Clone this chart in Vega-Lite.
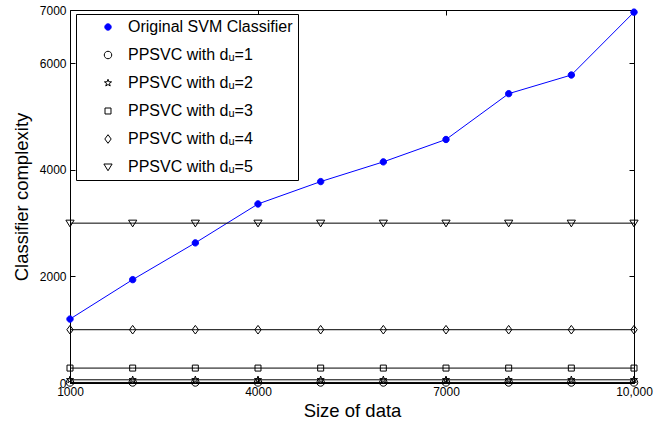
{
  "$schema": "https://vega.github.io/schema/vega-lite/v6.json",
  "width": 564,
  "height": 373,
  "autosize": "none",
  "padding": {"left": 70, "top": 10, "right": 20, "bottom": 45},
  "background": "white",
  "config": {
    "font": "Liberation Sans",
    "view": {"stroke": "black", "strokeWidth": 1},
    "axis": {"grid": false, "domainColor": "black", "tickColor": "black", "labelColor": "black", "titleColor": "black", "labelFont": "Liberation Sans", "titleFont": "Liberation Sans", "titleFontWeight": "normal"},
    "legend": {"title": null, "orient": "none", "legendX": 6, "legendY": 4, "fillColor": "white", "strokeColor": "black", "padding": 5, "rowPadding": 12, "labelFontSize": 16, "labelLimit": 400, "labelFont": "Liberation Sans", "labelColor": "black", "symbolSize": 56, "symbolOffset": 19, "labelOffset": 12, "symbolStrokeWidth": 1}
  },
  "datasets": {
    "pts": [
      {"size": 1000, "series": "Original SVM Classifier", "complexity": 1200},
      {"size": 2000, "series": "Original SVM Classifier", "complexity": 1940},
      {"size": 3000, "series": "Original SVM Classifier", "complexity": 2630},
      {"size": 4000, "series": "Original SVM Classifier", "complexity": 3360},
      {"size": 5000, "series": "Original SVM Classifier", "complexity": 3780},
      {"size": 6000, "series": "Original SVM Classifier", "complexity": 4150},
      {"size": 7000, "series": "Original SVM Classifier", "complexity": 4570},
      {"size": 8000, "series": "Original SVM Classifier", "complexity": 5430},
      {"size": 9000, "series": "Original SVM Classifier", "complexity": 5780},
      {"size": 10000, "series": "Original SVM Classifier", "complexity": 6960},
      {"size": 1000, "series": "PPSVC with dᵤ=1", "complexity": 10},
      {"size": 2000, "series": "PPSVC with dᵤ=1", "complexity": 10},
      {"size": 3000, "series": "PPSVC with dᵤ=1", "complexity": 10},
      {"size": 4000, "series": "PPSVC with dᵤ=1", "complexity": 10},
      {"size": 5000, "series": "PPSVC with dᵤ=1", "complexity": 10},
      {"size": 6000, "series": "PPSVC with dᵤ=1", "complexity": 10},
      {"size": 7000, "series": "PPSVC with dᵤ=1", "complexity": 10},
      {"size": 8000, "series": "PPSVC with dᵤ=1", "complexity": 10},
      {"size": 9000, "series": "PPSVC with dᵤ=1", "complexity": 10},
      {"size": 10000, "series": "PPSVC with dᵤ=1", "complexity": 10},
      {"size": 1000, "series": "PPSVC with dᵤ=2", "complexity": 60},
      {"size": 2000, "series": "PPSVC with dᵤ=2", "complexity": 60},
      {"size": 3000, "series": "PPSVC with dᵤ=2", "complexity": 60},
      {"size": 4000, "series": "PPSVC with dᵤ=2", "complexity": 60},
      {"size": 5000, "series": "PPSVC with dᵤ=2", "complexity": 60},
      {"size": 6000, "series": "PPSVC with dᵤ=2", "complexity": 60},
      {"size": 7000, "series": "PPSVC with dᵤ=2", "complexity": 60},
      {"size": 8000, "series": "PPSVC with dᵤ=2", "complexity": 60},
      {"size": 9000, "series": "PPSVC with dᵤ=2", "complexity": 60},
      {"size": 10000, "series": "PPSVC with dᵤ=2", "complexity": 60},
      {"size": 1000, "series": "PPSVC with dᵤ=3", "complexity": 280},
      {"size": 2000, "series": "PPSVC with dᵤ=3", "complexity": 280},
      {"size": 3000, "series": "PPSVC with dᵤ=3", "complexity": 280},
      {"size": 4000, "series": "PPSVC with dᵤ=3", "complexity": 280},
      {"size": 5000, "series": "PPSVC with dᵤ=3", "complexity": 280},
      {"size": 6000, "series": "PPSVC with dᵤ=3", "complexity": 280},
      {"size": 7000, "series": "PPSVC with dᵤ=3", "complexity": 280},
      {"size": 8000, "series": "PPSVC with dᵤ=3", "complexity": 280},
      {"size": 9000, "series": "PPSVC with dᵤ=3", "complexity": 280},
      {"size": 10000, "series": "PPSVC with dᵤ=3", "complexity": 280},
      {"size": 1000, "series": "PPSVC with dᵤ=4", "complexity": 1000},
      {"size": 2000, "series": "PPSVC with dᵤ=4", "complexity": 1000},
      {"size": 3000, "series": "PPSVC with dᵤ=4", "complexity": 1000},
      {"size": 4000, "series": "PPSVC with dᵤ=4", "complexity": 1000},
      {"size": 5000, "series": "PPSVC with dᵤ=4", "complexity": 1000},
      {"size": 6000, "series": "PPSVC with dᵤ=4", "complexity": 1000},
      {"size": 7000, "series": "PPSVC with dᵤ=4", "complexity": 1000},
      {"size": 8000, "series": "PPSVC with dᵤ=4", "complexity": 1000},
      {"size": 9000, "series": "PPSVC with dᵤ=4", "complexity": 1000},
      {"size": 10000, "series": "PPSVC with dᵤ=4", "complexity": 1000},
      {"size": 1000, "series": "PPSVC with dᵤ=5", "complexity": 3000},
      {"size": 2000, "series": "PPSVC with dᵤ=5", "complexity": 3000},
      {"size": 3000, "series": "PPSVC with dᵤ=5", "complexity": 3000},
      {"size": 4000, "series": "PPSVC with dᵤ=5", "complexity": 3000},
      {"size": 5000, "series": "PPSVC with dᵤ=5", "complexity": 3000},
      {"size": 6000, "series": "PPSVC with dᵤ=5", "complexity": 3000},
      {"size": 7000, "series": "PPSVC with dᵤ=5", "complexity": 3000},
      {"size": 8000, "series": "PPSVC with dᵤ=5", "complexity": 3000},
      {"size": 9000, "series": "PPSVC with dᵤ=5", "complexity": 3000},
      {"size": 10000, "series": "PPSVC with dᵤ=5", "complexity": 3000}
    ]
  },
  "data": {"name": "pts"},
  "encoding": {
    "x": {"field": "size", "type": "quantitative", "scale": {"domain": [1000, 10000], "nice": false, "zero": false}},
    "y": {"field": "complexity", "type": "quantitative", "scale": {"domain": [0, 7000], "nice": false}}
  },
  "layer": [
    {
      "mark": {"type": "line", "strokeWidth": 1},
      "encoding": {
        "x": {"field": "size", "type": "quantitative", "axis": {"orient": "bottom", "values": [1000, 4000, 7000, 10000], "labelExpr": "datum.value == 10000 ? '10,000' : format(datum.value, 'd')", "labelFontSize": 12, "tickSize": -5, "labelPadding": 8, "title": "Size of data", "titleFontSize": 18.5, "titlePadding": 4, "domain": true, "labelFlush": false}},
        "y": {"field": "complexity", "type": "quantitative", "axis": {"orient": "left", "values": [0, 2000, 4000, 6000, 7000], "format": "d", "labelFontSize": 12, "tickSize": -5, "labelPadding": 9, "title": "Classifier complexity", "titleFontSize": 18.5, "titlePadding": 8}},
        "color": {"field": "series", "type": "nominal", "sort": null, "scale": {"domain": ["Original SVM Classifier", "PPSVC with dᵤ=1", "PPSVC with dᵤ=2", "PPSVC with dᵤ=3", "PPSVC with dᵤ=4", "PPSVC with dᵤ=5"], "range": ["#0000ff", "#000000", "#000000", "#000000", "#000000", "#000000"]}},
        "detail": {"field": "series"}
      }
    },
    {
      "mark": {"type": "point", "size": 56, "strokeWidth": 1, "opacity": 1},
      "encoding": {
        "x": {"field": "size", "type": "quantitative", "axis": {"orient": "top", "values": [4000, 7000], "labels": false, "title": null, "tickSize": -5, "domain": false}},
        "y": {"field": "complexity", "type": "quantitative", "axis": {"orient": "right", "values": [2000, 4000, 6000], "labels": false, "title": null, "tickSize": -5, "domain": false}},
        "color": {"field": "series", "type": "nominal", "sort": null, "scale": {"domain": ["Original SVM Classifier", "PPSVC with dᵤ=1", "PPSVC with dᵤ=2", "PPSVC with dᵤ=3", "PPSVC with dᵤ=4", "PPSVC with dᵤ=5"], "range": ["#0000ff", "#000000", "#000000", "#000000", "#000000", "#000000"]}},
        "fill": {"field": "series", "type": "nominal", "sort": null, "scale": {"domain": ["Original SVM Classifier", "PPSVC with dᵤ=1", "PPSVC with dᵤ=2", "PPSVC with dᵤ=3", "PPSVC with dᵤ=4", "PPSVC with dᵤ=5"], "range": ["#0000ff", "transparent", "transparent", "transparent", "transparent", "transparent"]}},
        "shape": {"field": "series", "type": "nominal", "sort": null, "scale": {"domain": ["Original SVM Classifier", "PPSVC with dᵤ=1", "PPSVC with dᵤ=2", "PPSVC with dᵤ=3", "PPSVC with dᵤ=4", "PPSVC with dᵤ=5"], "range": ["M0.85,0A0.85,0.85,0,1,1,-0.85,0A0.85,0.85,0,1,1,0.85,0Z", "M1,0A1,1,0,1,1,-1,0A1,1,0,1,1,1,0Z", "M0,-1L0.235,-0.324L0.951,-0.309L0.38,0.124L0.588,0.809L0,0.4L-0.588,0.809L-0.38,0.124L-0.951,-0.309L-0.235,-0.324Z", "M-0.8,-0.8H0.8V0.8H-0.8Z", "M0,-1.15L0.85,0L0,1.15L-0.85,0Z", "M-1.1,-0.8H1.1L0,1Z"]}}
      }
    }
  ],
  "resolve": {"axis": {"x": "independent", "y": "independent"}}
}
